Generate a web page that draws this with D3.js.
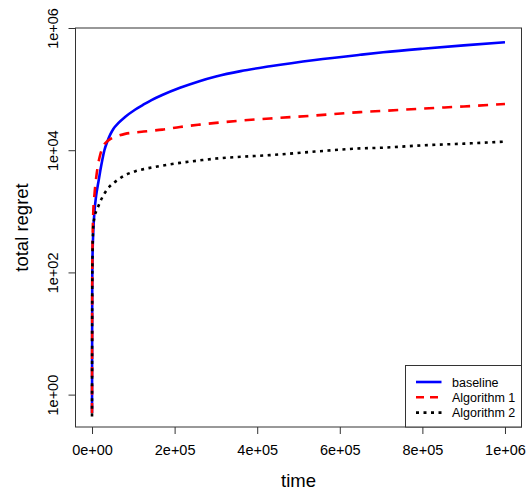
<!DOCTYPE html>
<html lang="en">
  <head>
    <meta charset="UTF-8" />
    <title>total regret</title>
    <script src="https://cdn.jsdelivr.net/npm/d3@7/dist/d3.min.js"></script>
    <style>
      body { margin: 0; background: #fff; }
      text { font-family: "Liberation Sans", Arial, sans-serif; }
    </style>
  </head>
  <body>
    <div id="wrapper"></div>
    <script>
      // data
      const times = [1, 500, 1000, 3000, 6000, 10000, 15000, 20000, 25000, 30000, 37000, 44000,
        52000, 63000, 80000, 104000, 125000, 144000, 170000, 213000, 260000, 300000, 360000,
        431000, 540000, 649000, 705000, 800000, 900000, 1000000];
      const baseline = [0.5, 60, 150, 450, 1000, 1800, 2900, 4600, 7000, 10000, 13800, 18000,
        22500, 27500, 35000, 46000, 56000, 66000, 80000, 105000, 135000, 161000, 197000,
        236000, 299000, 364000, 400000, 458000, 520000, 583000];
      const algorithm1 = [0.5, 60, 200, 960, 1900, 3500, 6000, 8500, 10800, 12500, 14000, 15200,
        16200, 17200, 18500, 19500, 20200, 20800, 21700, 24000, 26200, 28000, 30500,
        33000, 37000, 42000, 44000, 48000, 52000, 57000];
      const algorithm2 = [0.44, 40, 150, 560, 800, 1000, 1200, 1450, 1700, 1950, 2300, 2600,
        2900, 3300, 3900, 4500, 4900, 5200, 5600, 6200, 6800, 7300, 7800,
        8300, 9500, 10700, 11000, 12000, 12800, 13800];
      const seriesNames = ["baseline", "Algorithm 1", "Algorithm 2"];
      const xTicks = [0, 200000, 400000, 600000, 800000, 1000000];
      const xTickLabels = ["0e+00", "2e+05", "4e+05", "6e+05", "8e+05", "1e+06"];
      const yTicks = [1, 100, 10000, 1000000];
      const yTickLabels = ["1e+00", "1e+02", "1e+04", "1e+06"];

      const dimensions = {
        width: 527,
        height: 492,
        margin: { top: 28, right: 5.5, bottom: 65, left: 75.5 },
      };
      dimensions.boundedWidth =
        dimensions.width - dimensions.margin.left - dimensions.margin.right;
      dimensions.boundedHeight =
        dimensions.height - dimensions.margin.top - dimensions.margin.bottom;

      const svg = d3
        .select("#wrapper")
        .append("svg")
        .attr("width", dimensions.width)
        .attr("height", dimensions.height);

      const bounds = svg
        .append("g")
        .attr("transform", `translate(${dimensions.margin.left},${dimensions.margin.top})`);

      const xScale = d3
        .scaleLinear()
        .domain([-40000, 1040000])
        .range([0, dimensions.boundedWidth]);

      const yScale = d3
        .scaleLog()
        .domain([Math.pow(10, -0.53), 1000000])
        .range([dimensions.boundedHeight, 0]);

      const series = [
        { name: seriesNames[0], values: baseline, color: "#0000ff", dash: null, legendDash: null },
        { name: seriesNames[1], values: algorithm1, color: "#ff0000", dash: "10,8", legendDash: "8,6" },
        { name: seriesNames[2], values: algorithm2, color: "#000000", dash: "3,4.5", legendDash: "3,4.5" },
      ];

      const lineGenerator = d3
        .line()
        .x((d) => xScale(d[0]))
        .y((d) => yScale(d[1]))
        .curve(d3.curveMonotoneX);

      series.forEach((s) => {
        bounds
          .append("path")
          .attr("d", lineGenerator(times.map((t, i) => [t, s.values[i]])))
          .attr("fill", "none")
          .attr("stroke", s.color)
          .attr("stroke-width", 2.6)
          .attr("stroke-dasharray", s.dash);
      });

      // axes
      const xAxis = bounds
        .append("g")
        .attr("transform", `translate(0,${dimensions.boundedHeight})`)
        .call(
          d3.axisBottom(xScale)
            .tickValues(xTicks)
            .tickSize(7)
            .tickFormat((d, i) => xTickLabels[i])
        );
      xAxis.select(".domain").remove();
      xAxis.selectAll("line").attr("stroke", "#333");
      xAxis
        .selectAll("text")
        .attr("y", 28)
        .attr("dy", 0)
        .attr("fill", "#000")
        .style("font-size", "14.5px");

      const yAxis = bounds.append("g").call(
        d3.axisLeft(yScale)
          .tickValues(yTicks)
          .tickSize(7)
          .tickFormat((d, i) => yTickLabels[i])
      );
      yAxis.select(".domain").remove();
      yAxis.selectAll("line").attr("stroke", "#333");
      yAxis
        .selectAll("text")
        .attr("x", 0)
        .attr("y", -17.5)
        .attr("dy", 0)
        .attr("transform", "rotate(-90)")
        .attr("fill", "#000")
        .style("text-anchor", "middle")
        .style("font-size", "14.5px");

      // plot box
      bounds
        .append("rect")
        .attr("width", dimensions.boundedWidth)
        .attr("height", dimensions.boundedHeight)
        .attr("fill", "none")
        .attr("stroke", "#333")
        .attr("stroke-width", 1);

      // axis titles
      svg
        .append("text")
        .attr("x", dimensions.margin.left + dimensions.boundedWidth / 2)
        .attr("y", 486.5)
        .attr("text-anchor", "middle")
        .style("font-size", "18.5px")
        .text("time");

      svg
        .append("text")
        .attr("transform", `translate(27.5,${dimensions.margin.top + dimensions.boundedHeight / 2}) rotate(-90)`)
        .attr("text-anchor", "middle")
        .style("font-size", "18.5px")
        .text("total regret");

      // legend
      const legend = svg.append("g").attr("transform", "translate(405.5,365.5)");
      legend
        .append("rect")
        .attr("width", 116)
        .attr("height", 61.5)
        .attr("fill", "#fff")
        .attr("stroke", "#333");
      series.forEach((s, i) => {
        const y = 16.5 + i * 15.3;
        legend
          .append("line")
          .attr("x1", 10.5)
          .attr("x2", 36)
          .attr("y1", y)
          .attr("y2", y)
          .attr("stroke", s.color)
          .attr("stroke-width", 2.6)
          .attr("stroke-dasharray", s.legendDash);
        legend
          .append("text")
          .attr("x", 46.5)
          .attr("y", y + 4.5)
          .style("font-size", "12.5px")
          .text(s.name);
      });
    </script>
  </body>
</html>
